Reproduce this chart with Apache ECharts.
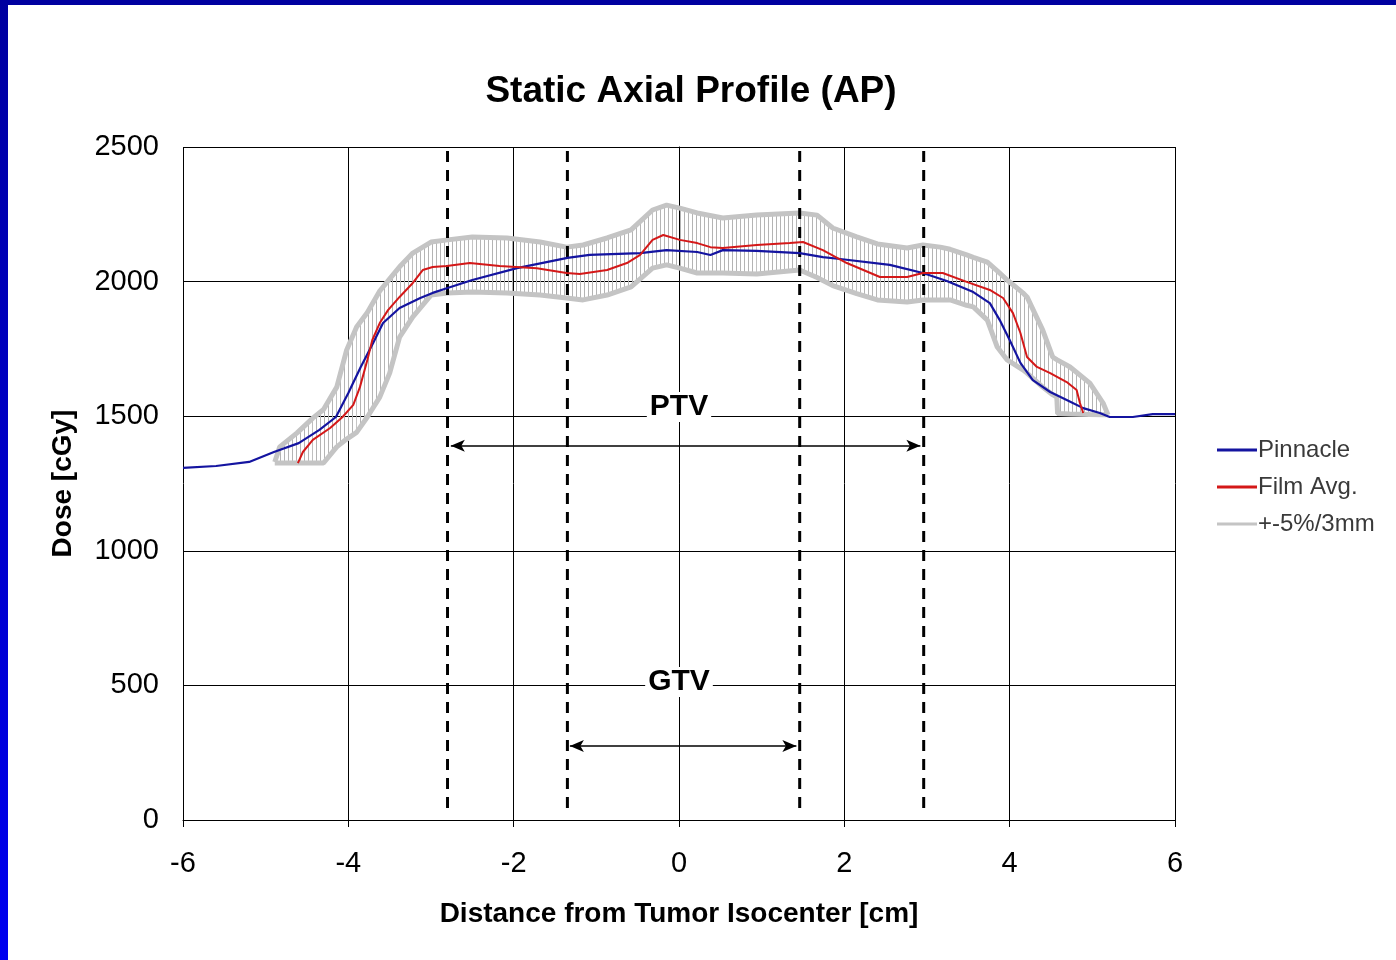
<!DOCTYPE html>
<html>
<head>
<meta charset="utf-8">
<script src="https://cdn.jsdelivr.net/npm/echarts@6/dist/echarts.min.js"></script>
<style>
html,body{margin:0;padding:0;background:#fff;}
#c{width:1396px;height:960px;}
</style>
</head>
<body>
<div id="c"></div>
<script>
// ---- data ----
const pinnacle = [[-6,1308],[-5.6,1315],[-5.2,1330],[-4.9,1367],[-4.6,1400],[-4.35,1449],[-4.15,1497],[-4.0,1586],[-3.85,1683],[-3.7,1772],[-3.58,1846],[-3.38,1902],[-3.13,1939],[-2.98,1958],[-2.8,1976],[-2.5,2006],[-1.96,2050],[-1.35,2088],[-1.08,2099],[-0.47,2106],[-0.15,2117],[0.22,2110],[0.38,2099],[0.53,2117],[0.94,2114],[1.46,2106],[1.74,2091],[1.95,2084],[2.55,2062],[2.95,2032],[3.24,2002],[3.56,1961],[3.76,1920],[3.88,1857],[4.0,1783],[4.13,1698],[4.28,1634],[4.49,1590],[4.69,1560],[4.89,1530],[5.09,1512],[5.21,1497],[5.49,1497],[5.73,1508],[6,1508]];

const filmAvg = [[-4.61,1326],[-4.55,1367],[-4.43,1412],[-4.22,1456],[-4.07,1497],[-3.94,1542],[-3.86,1608],[-3.77,1709],[-3.71,1783],[-3.62,1846],[-3.52,1894],[-3.38,1943],[-3.22,1995],[-3.1,2043],[-2.98,2054],[-2.81,2058],[-2.53,2069],[-2.17,2058],[-1.72,2050],[-1.36,2032],[-1.2,2028],[-0.87,2043],[-0.63,2069],[-0.47,2099],[-0.32,2155],[-0.19,2173],[0.01,2155],[0.22,2143],[0.38,2128],[0.53,2125],[0.94,2136],[1.34,2143],[1.5,2147],[1.74,2117],[2.03,2069],[2.43,2017],[2.76,2017],[2.95,2032],[3.19,2032],[3.48,1999],[3.76,1969],[3.92,1939],[4.04,1883],[4.13,1809],[4.21,1720],[4.33,1683],[4.49,1660],[4.69,1627],[4.81,1597],[4.85,1549],[4.89,1512]];

// tolerance band: x positions, lower and upper envelopes
const bandX     = [-4.89,-4.83,-4.62,-4.43,-4.3,-4.14,-4.02,-3.9,-3.77,-3.62,-3.5,-3.38,-3.22,-3.0,-2.8,-2.5,-2.08,-1.68,-1.36,-1.16,-0.87,-0.58,-0.32,-0.15,0.01,0.22,0.53,0.94,1.46,1.67,1.86,2.15,2.4,2.76,2.95,3.16,3.28,3.48,3.56,3.73,3.85,3.97,4.16,4.21,4.4,4.52,4.57,4.58,4.73,4.97,5.13,5.19];
const bandLower = [1326,1326,1326,1326,1326,1386,1415,1440,1497,1571,1660,1794,1869,1950,1958,1961,1958,1950,1939,1932,1950,1980,2050,2062,2050,2032,2032,2028,2043,2015,1985,1955,1932,1924,1932,1932,1932,1912,1906,1857,1757,1709,1672,1660,1608,1580,1571,1510,1508,1506,1505,1505];
const bandUpper = [1330,1386,1438,1493,1525,1608,1746,1831,1885,1965,2010,2055,2106,2147,2155,2166,2162,2147,2128,2136,2162,2192,2266,2284,2273,2255,2236,2247,2255,2247,2199,2166,2140,2125,2136,2128,2120,2099,2090,2072,2040,2006,1958,1943,1820,1720,1710,1708,1683,1623,1549,1505];

// target volume boundaries (dashed lines) and annotations
const volumeLines = [-2.8, -1.35, 1.46, 2.96];
const dashedSpan = [45, 2500];
const ptvArrow = {x: [-2.76, 2.92], y: 1390, label: 'PTV', labelY: 1534};
const gtvArrow = {x: [-1.32, 1.42], y: 275, label: 'GTV', labelY: 513};

const xTicks = {min: -6, max: 6, interval: 2};
const yTicks = {min: 0, max: 2500, interval: 500};

// ---- chart ----
const chart = echarts.init(document.getElementById('c'), null, {renderer: 'canvas'});

const pat = document.createElement('canvas');
pat.width = 4; pat.height = 4;
const pctx = pat.getContext('2d');
pctx.fillStyle = '#b4b4b4';
pctx.fillRect(0, 0, 1, 4);
const patternFill = {image: pat, repeat: 'repeat'};

const FONT = '"Liberation Sans", Arial, sans-serif';
const GRAY = '#c4c4c4';

const bandData = bandX.map((x, i) => [x, bandLower[i], bandUpper[i]]);

const series = [
  {
    name: '+-5%/3mm', type: 'custom', silent: true, z: 2,
    data: bandData,
    encode: {x: 0, y: [1, 2]},
    itemStyle: {color: GRAY},
    renderItem: function (params, api) {
      const i = params.dataIndex;
      if (i >= bandData.length - 1) return null;
      const a = bandData[i], b = bandData[i + 1];
      const pts = [
        api.coord([a[0], a[1]]), api.coord([a[0], a[2]]),
        api.coord([b[0], b[2]]), api.coord([b[0], b[1]])
      ];
      return {type: 'polygon', shape: {points: pts}, style: {fill: patternFill, stroke: null}};
    }
  },
  {
    name: '+-5%/3mm', type: 'line', showSymbol: false, symbol: 'none', silent: true, z: 3,
    data: bandX.map((x, i) => [x, bandLower[i]]),
    lineStyle: {color: GRAY, width: 5}, itemStyle: {color: GRAY}
  },
  {
    name: '+-5%/3mm', type: 'line', showSymbol: false, symbol: 'none', silent: true, z: 3,
    data: bandX.map((x, i) => [x, bandUpper[i]]),
    lineStyle: {color: GRAY, width: 5}, itemStyle: {color: GRAY}
  }
];

volumeLines.forEach((x, i) => {
  series.push({
    name: 'vol' + i, type: 'line', showSymbol: false, symbol: 'none', silent: true,
    data: [[x, dashedSpan[0]], [x, dashedSpan[1]]],
    lineStyle: {color: '#000', width: 3, type: [11, 8]}, z: 4
  });
});

series.push({
  name: 'Pinnacle', type: 'line', showSymbol: false, symbol: 'none',
  data: pinnacle, lineStyle: {color: '#1414a0', width: 2.2}, itemStyle: {color: '#1414a0'}, z: 5
});
series.push({
  name: 'Film Avg.', type: 'line', showSymbol: false, symbol: 'none',
  data: filmAvg, lineStyle: {color: '#d41818', width: 2}, itemStyle: {color: '#d41818'}, z: 6
});

series.push({
  name: 'labels', type: 'scatter', symbolSize: 0, silent: true, z: 7,
  itemStyle: {color: '#fff', opacity: 1},
  data: [[0, ptvArrow.labelY, ptvArrow.label], [0, gtvArrow.labelY, gtvArrow.label]],
  label: {
    show: true, position: 'inside', formatter: p => p.value[2], opacity: 1,
    fontFamily: FONT, fontWeight: 'bold', fontSize: 30, color: '#000',
    backgroundColor: '#fff', padding: [0, 3, 0, 3]
  },
  markLine: {
    silent: true, symbol: ['arrow', 'arrow'], symbolSize: [9, 14],
    label: {show: false},
    lineStyle: {color: '#000', width: 1.5, type: 'solid'},
    data: [
      [{coord: [ptvArrow.x[0], ptvArrow.y]}, {coord: [ptvArrow.x[1], ptvArrow.y]}],
      [{coord: [gtvArrow.x[0], gtvArrow.y]}, {coord: [gtvArrow.x[1], gtvArrow.y]}]
    ]
  }
});

chart.setOption({
  animation: false,
  backgroundColor: '#fff',
  title: {
    text: 'Static Axial Profile (AP)', left: 686, top: 68, textAlign: 'center',
    textStyle: {fontFamily: FONT, fontWeight: 'bold', fontSize: 37, color: '#000'}
  },
  grid: {left: 183, top: 147, right: 221, bottom: 140, containLabel: false},
  legend: {
    data: ['Pinnacle', 'Film Avg.', '+-5%/3mm'], orient: 'vertical',
    left: 1212, top: 433, itemGap: 13, itemWidth: 40, itemHeight: 3,
    icon: 'rect',
    textStyle: {fontFamily: FONT, fontSize: 24, color: '#3a3a3a', padding: [0, 0, 0, -4]}
  },
  xAxis: {
    type: 'value', min: xTicks.min, max: xTicks.max, interval: xTicks.interval,
    name: 'Distance from Tumor Isocenter [cm]', nameLocation: 'middle', nameGap: 80,
    nameTextStyle: {fontFamily: FONT, fontWeight: 'bold', fontSize: 28, color: '#000'},
    axisLine: {show: true, lineStyle: {color: '#000', width: 1}},
    axisTick: {show: true, length: 7, lineStyle: {color: '#000'}},
    axisLabel: {fontFamily: FONT, fontSize: 29, color: '#000', margin: 29},
    splitLine: {show: true, lineStyle: {color: '#000', width: 1}}
  },
  yAxis: {
    type: 'value', min: yTicks.min, max: yTicks.max, interval: yTicks.interval,
    name: 'Dose [cGy]', nameLocation: 'middle', nameGap: 106, nameRotate: 90,
    nameTextStyle: {fontFamily: FONT, fontWeight: 'bold', fontSize: 28, color: '#000'},
    axisLine: {show: true, lineStyle: {color: '#000', width: 1}},
    axisTick: {show: true, length: 5, lineStyle: {color: '#000'}},
    axisLabel: {fontFamily: FONT, fontSize: 29, color: '#000', margin: 24, formatter: v => String(v)},
    splitLine: {show: true, lineStyle: {color: '#000', width: 1}}
  },
  graphic: [
    {type: 'rect', left: 0, top: 0, shape: {width: 1396, height: 5}, style: {fill: '#0000a0'}, z: 100},
    {type: 'rect', left: 0, top: 0, shape: {width: 8, height: 960},
      style: {fill: new echarts.graphic.LinearGradient(0, 0, 0, 1, [{offset: 0, color: '#0000a0'}, {offset: 1, color: '#0000f0'}])}, z: 100}
  ],
  series: series
});
</script>
</body>
</html>
